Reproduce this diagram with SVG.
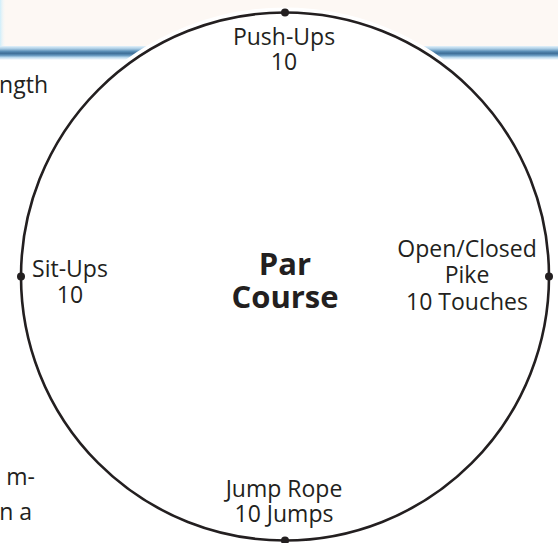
<svg xmlns="http://www.w3.org/2000/svg" width="558" height="543" viewBox="0 0 558 543">
  <defs>
    <linearGradient id="bar" x1="0" y1="0" x2="0" y2="1">
      <stop offset="0" stop-color="#e3f2fb"/>
      <stop offset="0.2" stop-color="#a8cbe3"/>
      <stop offset="0.38" stop-color="#5b8fb7"/>
      <stop offset="0.52" stop-color="#3e6e97"/>
      <stop offset="0.66" stop-color="#5f93bb"/>
      <stop offset="0.82" stop-color="#bcdaee"/>
      <stop offset="1" stop-color="#ffffff"/>
    </linearGradient>
    <linearGradient id="edge" x1="0" y1="0" x2="1" y2="0">
      <stop offset="0" stop-color="#cfeefb"/>
      <stop offset="1" stop-color="#fdf8f4" stop-opacity="0"/>
    </linearGradient>
    <style>
      .lbl { font-family: "Open Sans", "Noto Sans", sans-serif; font-size: 23px; fill: #231f20; text-anchor: middle; }
      .body { font-family: "Open Sans", "Noto Sans", sans-serif; font-size: 23px; fill: #231f20; }
      .title { font-family: "Open Sans", "Noto Sans", sans-serif; font-size: 31px; font-weight: bold; fill: #231f20; text-anchor: middle; }
      .dot { fill: #231f20; }
    </style>
  </defs>

  <g id="background">
    <rect x="0" y="0" width="558" height="543" fill="#ffffff"/>
    <rect x="0" y="0" width="558" height="47" fill="#fdf8f4"/>
    <rect x="0" y="0" width="6" height="47" fill="url(#edge)"/>
    <rect x="0" y="46" width="558" height="14" fill="url(#bar)"/>
  </g>

  <g id="page-text">
    <text class="body" x="48" y="93" text-anchor="end">ngth</text>
    <text class="body" x="35" y="485" text-anchor="end">m-</text>
    <text class="body" x="32" y="520" text-anchor="end">n a</text>
  </g>

  <g id="connectors">
    <circle cx="285" cy="276.5" r="264" fill="#ffffff" stroke="#ffffff" stroke-width="10"/>
    <circle cx="285" cy="276.5" r="264" fill="none" stroke="#231f20" stroke-width="2.6"/>
  </g>

  <g id="center">
    <text class="title" x="285" y="275">Par</text>
    <text class="title" x="285" y="308">Course</text>
  </g>

  <g id="push-ups">
    <circle class="dot" cx="285" cy="12.5" r="4"/>
    <text class="lbl" x="284" y="45">Push-Ups</text>
    <text class="lbl" x="284" y="70">10</text>
  </g>

  <g id="sit-ups">
    <circle class="dot" cx="21" cy="276.5" r="4"/>
    <text class="lbl" x="70" y="277">Sit-Ups</text>
    <text class="lbl" x="70" y="303">10</text>
  </g>

  <g id="pike">
    <circle class="dot" cx="549" cy="276.5" r="4"/>
    <text class="lbl" x="467" y="257">Open/Closed</text>
    <text class="lbl" x="467" y="283">Pike</text>
    <text class="lbl" x="467" y="310">10 Touches</text>
  </g>

  <g id="jump-rope">
    <circle class="dot" cx="285" cy="540.5" r="4"/>
    <text class="lbl" x="284" y="497">Jump Rope</text>
    <text class="lbl" x="284" y="522">10 Jumps</text>
  </g>
</svg>
